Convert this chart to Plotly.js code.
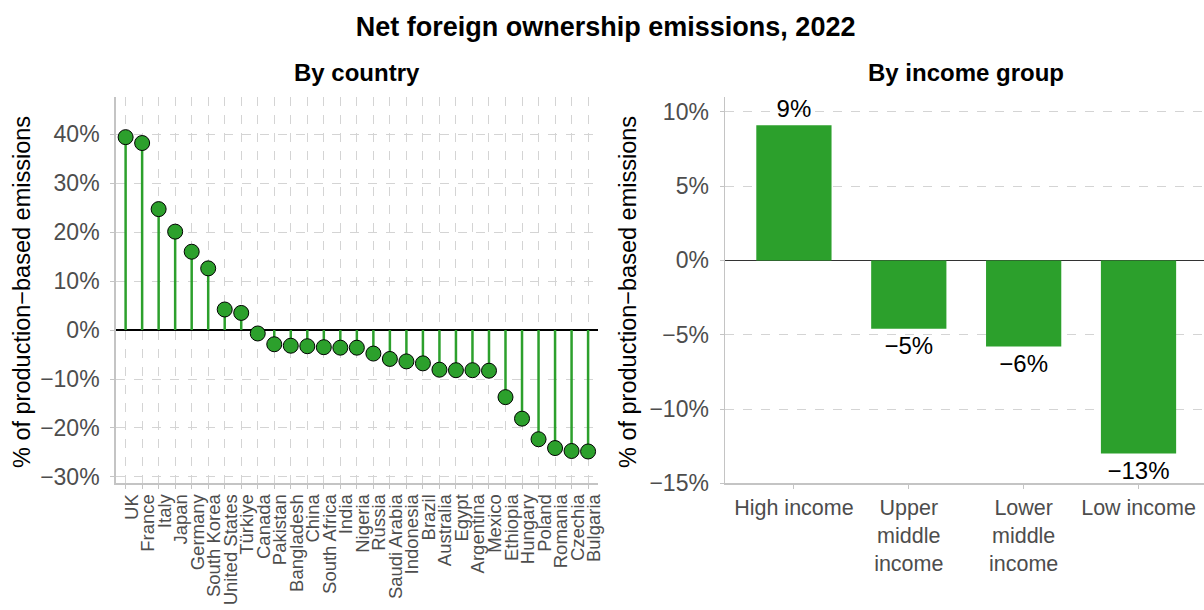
<!DOCTYPE html>
<html>
<head>
<meta charset="utf-8">
<script src="https://cdn.plot.ly/plotly-3.0.1.min.js"></script>
<style>html,body{margin:0;padding:0;background:#fff;}#chart{width:1204px;height:610px;}</style>
</head>
<body>
<div id="chart"></div>
<script>
// ---- Data ----
const countries = ["UK","France","Italy","Japan","Germany","South Korea","United States","Türkiye","Canada","Pakistan","Bangladesh","China","South Africa","India","Nigeria","Russia","Saudi Arabia","Indonesia","Brazil","Australia","Egypt","Argentina","Mexico","Ethiopia","Hungary","Poland","Romania","Czechia","Bulgaria"];
const countryValues = [39.4,38.2,24.7,20.1,16.0,12.6,4.2,3.5,-0.7,-2.9,-3.2,-3.3,-3.5,-3.6,-3.6,-4.8,-5.9,-6.4,-6.8,-8.1,-8.2,-8.2,-8.3,-13.7,-18.1,-22.3,-24.1,-24.7,-24.8];
const leftTickVals = [-30,-20,-10,0,10,20,30,40];
const leftTickText = ["−30%","−20%","−10%","0%","10%","20%","30%","40%"];

const incomeGroups = ["High income","Upper middle income","Lower middle income","Low income"];
const incomeTickText = ["High income","Upper<br>middle<br>income","Lower<br>middle<br>income","Low income"];
const incomeValues = [9.1,-4.6,-5.8,-13.0];
const rightTickVals = [-15,-10,-5,0,5,10];
const rightTickText = ["−15%","−10%","−5%","0%","5%","10%"];

// ---- Styles ----
const FONT = "Liberation Sans, Arial, Helvetica, sans-serif";
const GREEN = "#2ca02c";
const GRID = "#d4d4d4";
const AXIS = "#c4c4c4";
const TICKC = "#4d4d4d";

const fmt = v => (Math.round(v) < 0 ? "−" + Math.abs(Math.round(v)) : String(Math.round(v))) + "%";

const traces = [
  {
    type: "scatter", mode: "markers",
    x: countries, y: countryValues,
    xaxis: "x", yaxis: "y",
    marker: {size: 15, color: GREEN, line: {color: "#000", width: 1}},
    error_y: {
      type: "data", symmetric: false,
      array: countryValues.map(v => v < 0 ? -v : 0),
      arrayminus: countryValues.map(v => v > 0 ? v : 0),
      width: 0, thickness: 2.5, color: GREEN
    },
    cliponaxis: false, hoverinfo: "x+y", showlegend: false
  },
  {
    type: "bar",
    x: incomeGroups, y: incomeValues,
    xaxis: "x2", yaxis: "y2",
    width: 0.655,
    marker: {color: GREEN},
    text: incomeValues.map(fmt),
    textposition: "outside",
    constraintext: "none",
    textfont: {family: FONT, size: 24, color: "#000"},
    cliponaxis: false, showlegend: false
  }
];

const yDom = [1 - 483.3/610, 1 - 97/610];

const layout = {
  width: 1204, height: 610,
  margin: {l: 0, r: 0, t: 0, b: 0},
  paper_bgcolor: "#fff", plot_bgcolor: "#fff",
  font: {family: FONT, size: 23, color: TICKC},
  showlegend: false,
  title: {
    text: "<b>Net foreign ownership emissions, 2022</b>",
    font: {family: FONT, size: 27, color: "#000"},
    x: 0.503, xanchor: "center", xref: "paper",
    y: 1 - 27/610, yanchor: "middle", yref: "paper"
  },
  xaxis: {
    domain: [115.7/1204, 598/1204],
    anchor: "y",
    type: "category",
    categoryorder: "array", categoryarray: countries,
    tickmode: "array", tickvals: countries, ticktext: countries,
    range: [-0.6, 28.6],
    tickangle: -90,
    ticklabelshift: 6,
    ticklabelstandoff: -2,
    tickfont: {family: FONT, size: 18.5, color: TICKC},
    showgrid: true, gridcolor: GRID, griddash: "dash", gridwidth: 1,
    showline: true, linecolor: AXIS, linewidth: 1.5,
    ticks: "outside", ticklen: 4, tickcolor: AXIS, tickwidth: 1,
    zeroline: false, fixedrange: true
  },
  yaxis: {
    domain: yDom,
    anchor: "x",
    range: [-31.3, 47.6],
    tickmode: "array", tickvals: leftTickVals, ticktext: leftTickText,
    tickfont: {family: FONT, size: 23, color: TICKC},
    showgrid: true, gridcolor: GRID, griddash: "dash", gridwidth: 1,
    showline: true, linecolor: AXIS, linewidth: 1.5,
    ticks: "outside", ticklen: 4, tickcolor: AXIS, tickwidth: 1,
    ticklabelstandoff: 6,
    zeroline: true, zerolinecolor: "#000", zerolinewidth: 1.5,
    fixedrange: true
  },
  xaxis2: {
    domain: [725/1204, 1],
    anchor: "y2",
    type: "category",
    categoryorder: "array", categoryarray: incomeGroups,
    range: [-0.6, 3.57],
    tickmode: "array", tickvals: incomeGroups, ticktext: incomeTickText,
    tickfont: {family: FONT, size: 21.5, color: TICKC},
    showgrid: false,
    showline: true, linecolor: AXIS, linewidth: 1.5,
    ticks: "outside", ticklen: 4, tickcolor: AXIS, tickwidth: 1,
    zeroline: false, fixedrange: true
  },
  yaxis2: {
    domain: yDom,
    anchor: "x2",
    range: [-15, 11],
    tickmode: "array", tickvals: rightTickVals, ticktext: rightTickText,
    tickfont: {family: FONT, size: 23, color: TICKC},
    showgrid: true, gridcolor: GRID, griddash: "dash", gridwidth: 1,
    showline: true, linecolor: AXIS, linewidth: 1.5,
    ticks: "outside", ticklen: 4, tickcolor: AXIS, tickwidth: 1,
    ticklabelstandoff: 6,
    zeroline: true, zerolinecolor: "#333", zerolinewidth: 1.5,
    fixedrange: true
  },
  annotations: [
    {text: "<b>By country</b>", xref: "paper", yref: "paper",
     x: (115.7 + 598) / 2 / 1204, y: 1 - 73/610, xanchor: "center", yanchor: "middle",
     showarrow: false, font: {family: FONT, size: 24, color: "#000"}},
    {text: "<b>By income group</b>", xref: "paper", yref: "paper",
     x: (725 + 1206) / 2 / 1204, y: 1 - 73/610, xanchor: "center", yanchor: "middle",
     showarrow: false, font: {family: FONT, size: 24, color: "#000"}},
    {text: "% of production−based emissions", xref: "paper", yref: "paper",
     x: 22/1204, y: 1 - 292/610, xanchor: "center", yanchor: "middle", textangle: -90,
     showarrow: false, font: {family: FONT, size: 23.5, color: "#000"}},
    {text: "% of production−based emissions", xref: "paper", yref: "paper",
     x: 628/1204, y: 1 - 292/610, xanchor: "center", yanchor: "middle", textangle: -90,
     showarrow: false, font: {family: FONT, size: 23.5, color: "#000"}}
  ]
};

Plotly.newPlot("chart", traces, layout, {displayModeBar: false, staticPlot: true});
</script>
</body>
</html>
